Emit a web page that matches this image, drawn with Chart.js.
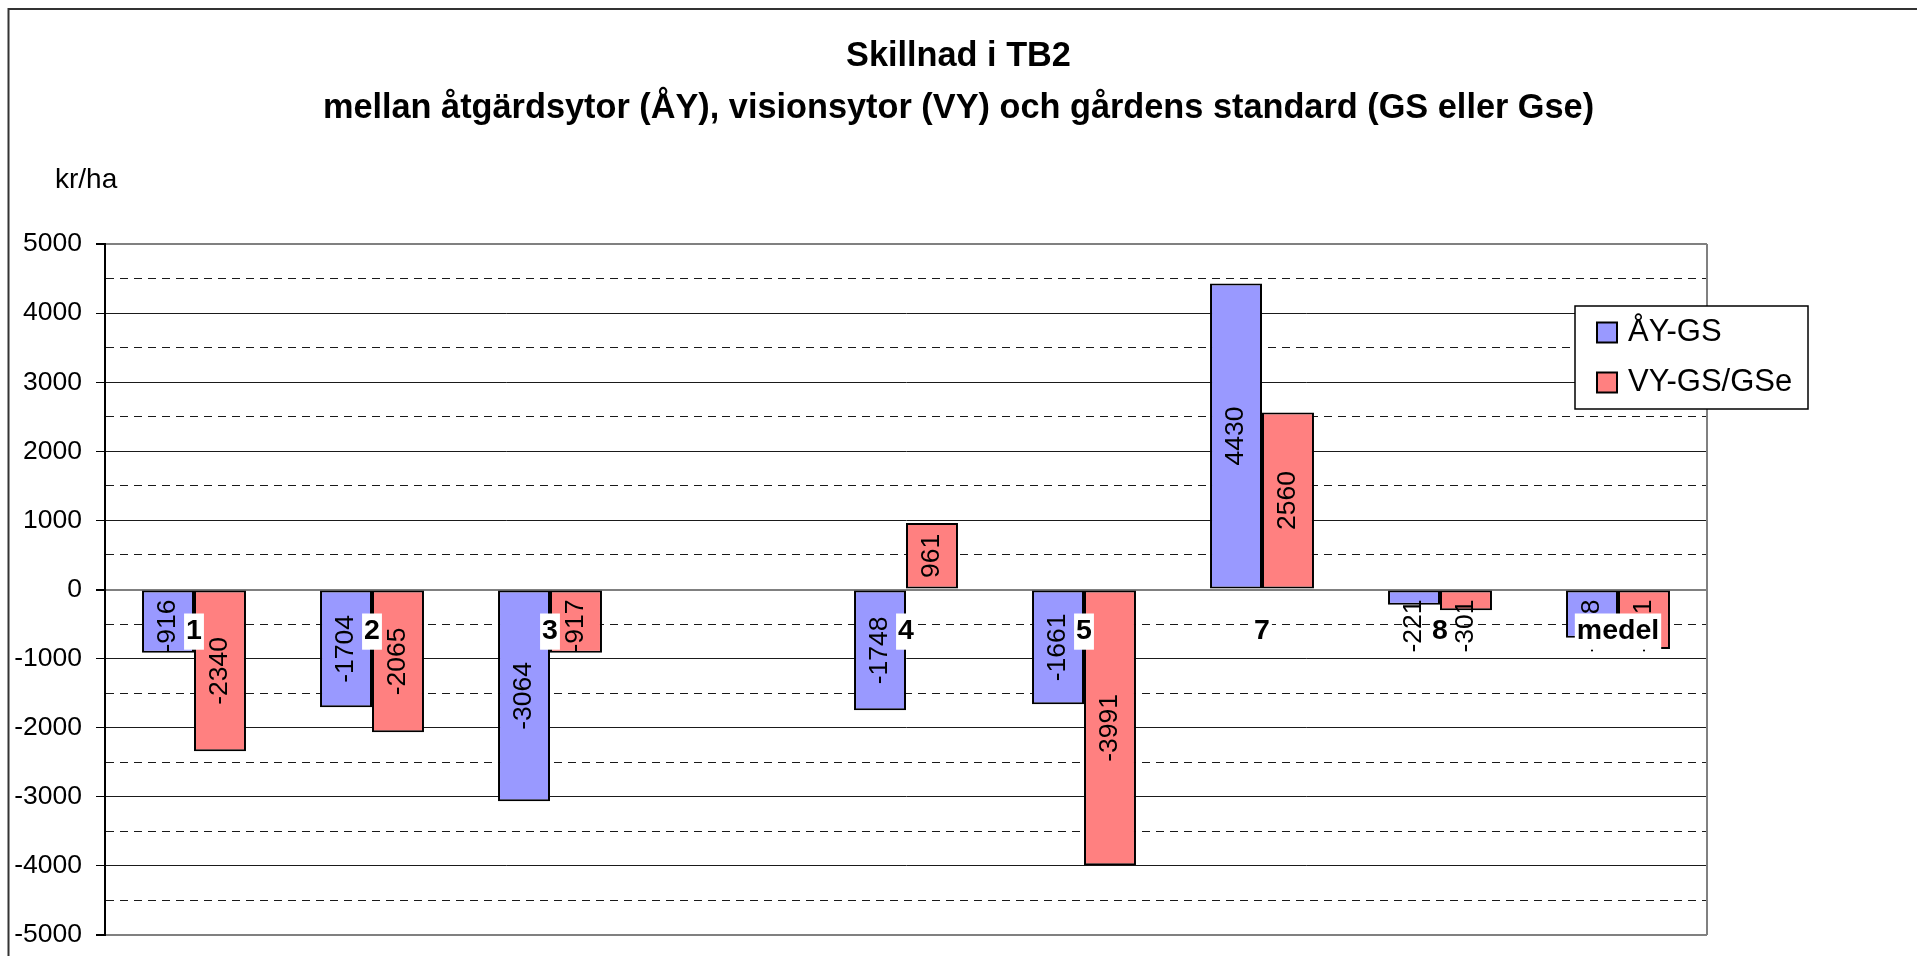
<!DOCTYPE html>
<html><head><meta charset="utf-8">
<script src="https://cdn.jsdelivr.net/npm/chart.js@4/dist/chart.umd.min.js"></script>
<style>html,body{margin:0;padding:0;background:#fff}#wrap{width:1917px;height:956px;position:relative}</style>
</head><body><div id="wrap"><canvas id="c"></canvas></div>
<script>
const categories = ['1','2','3','','4','5','7','8','medel'];
const ayGs = [-916,-1704,-3064,null,-1748,-1661,4430,-221,-698];
const vyGs = [-2340,-2065,-917,null,961,-3991,2560,-301,-861];
const seriesNames = ['ÅY-GS','VY-GS/GSe'];
const seriesColors = ['#9999FF','#FF8080'];
const titleLines = ['Skillnad i TB2','mellan åtgärdsytor (ÅY), visionsytor (VY) och gårdens standard (GS eller Gse)'];
const unitLabel = 'kr/ha';
const yMin = -5000, yMax = 5000, yStep = 500, yLabelStep = 1000;

const FONT = "'Liberation Sans', Arial, sans-serif";

const frame = {
  id:'frame',
  beforeDraw(chart){
    const ctx = chart.ctx;
    ctx.save();
    ctx.strokeStyle = '#333'; ctx.lineWidth = 2;
    ctx.strokeRect(8.5, 9, 5000, 5000);
    ctx.restore();
  },
  beforeDatasetsDraw(chart){
    const ctx = chart.ctx, ca = chart.chartArea;
    ctx.save();
    ctx.strokeStyle = '#808080'; ctx.lineWidth = 2;
    ctx.beginPath(); ctx.moveTo(ca.right, ca.top); ctx.lineTo(ca.right, ca.bottom); ctx.stroke();
    ctx.restore();
  }
};

const valueLabels = {
  id:'valueLabels',
  afterDatasetsDraw(chart){
    const ctx = chart.ctx;
    const y0 = chart.scales.y.getPixelForValue(0);
    ctx.save();
    ctx.font = '26.5px ' + FONT; ctx.fillStyle = '#000';
    ctx.textAlign = 'center'; ctx.textBaseline = 'middle';
    chart.data.datasets.forEach((ds, di) => {
      const meta = chart.getDatasetMeta(di);
      meta.data.forEach((bar, i) => {
        const v = ds.data[i];
        if (v == null) return;
        const txt = String(v);
        const len = ctx.measureText(txt).width;
        let cy = (bar.y + bar.base) / 2;
        if (v < 0) cy = Math.max(cy, y0 + 10 + len / 2);
        ctx.save(); ctx.translate(bar.x, cy); ctx.rotate(-Math.PI / 2);
        ctx.fillText(txt, 0, 0); ctx.restore();
      });
    });
    ctx.restore();
  }
};

const boxLegend = {
  id:'boxLegend',
  afterDraw(chart){
    const ctx = chart.ctx, ca = chart.chartArea;
    const x = ca.right - 132, y = ca.top + 62, w = 233, h = 103;
    ctx.save();
    ctx.fillStyle = '#fff'; ctx.fillRect(x, y, w, h);
    ctx.strokeStyle = '#000'; ctx.lineWidth = 1.5; ctx.strokeRect(x, y, w, h);
    ctx.font = '31px ' + FONT; ctx.textBaseline = 'middle'; ctx.textAlign = 'left';
    chart.data.datasets.forEach((ds, i) => {
      const cy = y + 26.5 + i * 50;
      ctx.fillStyle = ds.backgroundColor; ctx.fillRect(x + 22, cy - 10, 20, 20);
      ctx.strokeStyle = '#000'; ctx.lineWidth = 2; ctx.strokeRect(x + 22, cy - 10, 20, 20);
      ctx.fillStyle = '#000'; ctx.fillText(ds.label, x + 53, cy);
    });
    // unit label above the value axis
    ctx.font = '28px ' + FONT; ctx.textBaseline = 'alphabetic'; ctx.fillStyle = '#000';
    ctx.fillText(unitLabel, 55, 188);
    ctx.restore();
  }
};

const isMajor = v => v % yLabelStep === 0;
const isEdge = v => v === 0 || v === yMin || v === yMax;

new Chart(document.getElementById('c'), {
  type: 'bar',
  data: {
    labels: categories,
    datasets: [
      {label: seriesNames[0], data: ayGs, backgroundColor: seriesColors[0], borderColor:'#000', borderWidth:2, borderSkipped:false},
      {label: seriesNames[1], data: vyGs, backgroundColor: seriesColors[1], borderColor:'#000', borderWidth:2, borderSkipped:false}
    ]
  },
  options: {
    responsive: true, maintainAspectRatio: false, animation: false,
    layout: {padding: {left:0, right:0, top:0, bottom:21}},
    datasets: {bar: {barPercentage: 1, categoryPercentage: 0.584}},
    plugins: {
      legend: {display:false},
      tooltip: {enabled:false},
      title: {display:true, text: titleLines, color:'#000',
        font:{family:FONT, size:34.3, weight:'bold', lineHeight:1.5},
        padding:{top:31.3, bottom:109.8}}
    },
    scales: {
      x: {
        type:'category', position:{y:0}, offset:true,
        grid:{display:false, drawTicks:false},
        border:{display:false},
        ticks:{z:1, color:'#000', font:{family:FONT, size:28.5, weight:'bold'}, padding:25,
          autoSkip:false, maxRotation:0, minRotation:0,
          showLabelBackdrop:true,
          backdropColor: c => (c.tick && c.tick.label) ? '#fff' : 'rgba(0,0,0,0)',
          backdropPadding:{x:2, y:1}}
      },
      y: {
        type:'linear', position:'left', min:yMin, max:yMax,
        afterFit: s => { s.width = 105; s.paddingTop = 0; s.paddingBottom = 0; },
        ticks:{stepSize:yStep, autoSkip:false, color:'#000', padding:14, font:{family:FONT, size:26.5},
          callback: v => isMajor(v) ? String(v) : ''},
        grid:{
          color: c => (c.tick && isEdge(c.tick.value)) ? '#808080' : '#1a1a1a',
          lineWidth: c => (c.tick && isEdge(c.tick.value)) ? 2 : 1,
          tickColor: c => (c.tick && isMajor(c.tick.value)) ? '#000' : 'rgba(0,0,0,0)',
          tickLength:9, drawTicks:true
        },
        border:{display:true, color:'#000', width:2,
          dash: c => (c.tick && !isMajor(c.tick.value)) ? [8,6] : []}
      },
      yRight: {
        type:'linear', position:'right', display:true,
        afterFit: s => { s.width = 210; s.paddingTop = 0; s.paddingBottom = 0; },
        grid:{display:false}, border:{display:false}, ticks:{display:false}
      }
    }
  },
  plugins:[frame, valueLabels, boxLegend]
});
</script></body></html>
